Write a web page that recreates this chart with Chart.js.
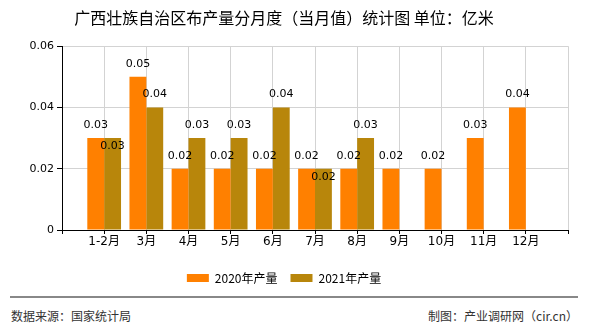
<!DOCTYPE html>
<html>
<head>
<meta charset="utf-8">
<script src="https://cdn.jsdelivr.net/npm/chart.js@4.4.1/dist/chart.umd.min.js"></script>
<style>
  body { margin: 0; background: #fff; }
  #wrap { position: relative; width: 590px; height: 330px; }
  #myChart { position: absolute; left: 0; top: 0; }
  #line { position: absolute; left: 10px; top: 296px; width: 568px; height: 0; border-top: 2px solid #888; }
  .foot { position: absolute; top: 307px; font: 12px "Noto Sans CJK SC", sans-serif; color: #333; }
</style>
</head>
<body>
<div id="wrap">
  <canvas id="myChart" width="590" height="298"></canvas>
  <div id="line"></div>
  <div class="foot" style="left:11px;">数据来源：国家统计局</div>
  <div class="foot" style="right:12px;">制图：产业调研网（cir.cn）</div>
</div>
<script>
let months = ['1-2月', '3月', '4月', '5月', '6月', '7月', '8月', '9月', '10月', '11月', '12月'];
let y2020 = [0.03, 0.05, 0.02, 0.02, 0.02, 0.02, 0.02, 0.02, 0.02, 0.03, 0.04];
let y2021 = [0.03, 0.04, 0.03, 0.03, 0.04, 0.02, 0.03, null, null, null, null];
let yTicks = [0, 0.02, 0.04, 0.06];

// empty slot at both ends so the bars sit on the grid lines
let labels = [''].concat(months).concat(['']);
let d2020 = [null].concat(y2020).concat([null]);
let d2021 = [null].concat(y2021).concat([null]);

let numFont = "'DejaVu Sans', 'Noto Sans CJK SC', sans-serif";

const valueLabels = {
    id: 'valueLabels',
    afterDatasetsDraw(chart) {
        let ctx = chart.ctx;
        ctx.save();
        ctx.font = '11px ' + numFont;
        ctx.fillStyle = '#000';
        ctx.textAlign = 'center';
        ctx.textBaseline = 'middle';
        chart.data.datasets.forEach((ds, di) => {
            let meta = chart.getDatasetMeta(di);
            meta.data.forEach((bar, i) => {
                let v = ds.data[i];
                if (v === null) return;
                let y = bar.y - 13;
                // second series label goes inside the bar when it would collide
                if (di === 1 && chart.data.datasets[0].data[i] === v) y = bar.y + 8;
                ctx.fillText(String(v), bar.x, y);
            });
        });
        ctx.restore();
    }
};

const data = {
    labels: labels,
    datasets: [{
        label: '2020年产量',
        backgroundColor: '#FF8000',
        data: d2020
    }, {
        label: '2021年产量',
        backgroundColor: '#B8860B',
        data: d2021
    }]
};

const config = {
    type: 'bar',
    data: data,
    plugins: [valueLabels],
    options: {
        responsive: false,
        animation: false,
        layout: { padding: { left: 0, right: 22, top: 0, bottom: 4 } },
        datasets: { bar: { categoryPercentage: 0.8, barPercentage: 1.0 } },
        plugins: {
            title: {
                display: true,
                text: '广西壮族自治区布产量分月度（当月值）统计图 单位：亿米',
                color: '#000',
                font: { size: 16, weight: 'normal', family: "'Noto Sans CJK SC', sans-serif" },
                padding: { top: 8, bottom: 19 }
            },
            legend: {
                position: 'bottom',
                labels: {
                    boxWidth: 22,
                    boxHeight: 8,
                    color: '#000',
                    padding: 13,
                    font: { size: 12, family: "'Noto Sans CJK SC', sans-serif" }
                }
            },
            tooltip: { enabled: false }
        },
        scales: {
            x: {
                offset: false,
                grid: { color: '#d3d3d3', tickColor: '#000', tickLength: 4, offset: false },
                border: { color: '#000', width: 1 },
                ticks: {
                    color: '#000',
                    autoSkip: false,
                    maxRotation: 0,
                    padding: 1,
                    font: { size: 12, family: numFont }
                },
                afterFit(scale) { scale.height = 29; }
            },
            y: {
                min: 0,
                max: 0.06,
                afterBuildTicks(scale) { scale.ticks = yTicks.map(v => ({ value: v })); },
                grid: { color: '#d3d3d3', tickColor: '#000', tickLength: 5 },
                border: { color: '#000', width: 1 },
                ticks: {
                    color: '#000',
                    padding: 3,
                    font: { size: 11, family: numFont },
                    callback: (v) => String(Number(v.toFixed(2)))
                },
                afterFit(scale) { scale.width = 62; }
            }
        }
    }
};

let myChart = new Chart(document.getElementById('myChart'), config);
</script>
</body>
</html>
